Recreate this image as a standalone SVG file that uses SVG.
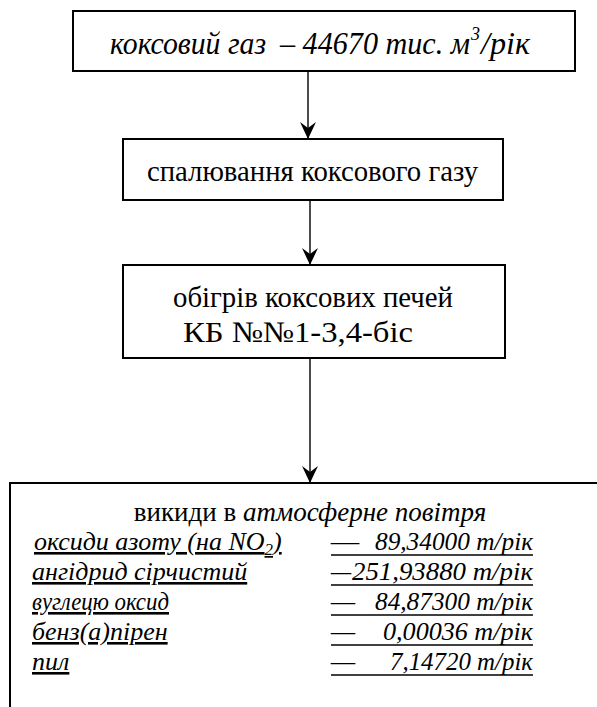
<svg xmlns="http://www.w3.org/2000/svg" width="597" height="707" viewBox="0 0 597 707" font-family="Liberation Serif, Times New Roman, serif">
<style>
.i{font-style:italic}
.m{text-anchor:middle}
.ul{text-decoration:underline}
.box{fill:#fff;stroke:#000;stroke-width:2}
.c{stroke:#000;stroke-width:1.4;fill:none}
.u{stroke:#000;stroke-width:1.5}
</style>
<defs>
<marker id="ah" markerUnits="userSpaceOnUse" markerWidth="19" markerHeight="18" viewBox="-18 -9 19 18" refX="0" refY="0" orient="auto">
<path d="M0,0 L-17,-8 L-11,0 L-17,8 Z" fill="#000"/>
</marker>
</defs>
<rect width="597" height="707" fill="#fff"/>
<g id="connectors">
<line class="c" x1="308" y1="71" x2="308" y2="139" marker-end="url(#ah)"/>
<line class="c" x1="310" y1="200" x2="310" y2="265" marker-end="url(#ah)"/>
<line class="c" x1="310" y1="358" x2="310" y2="483" marker-end="url(#ah)"/>
</g>
<g id="node-gas">
<rect class="box" x="73" y="11" width="502" height="60"/>
<text class="i" x="110" y="54" font-size="31" textLength="156" lengthAdjust="spacingAndGlyphs">коксовий газ</text>
<text class="i" x="280" y="54" font-size="31" textLength="190" lengthAdjust="spacingAndGlyphs">– 44670 тис. м</text>
<text class="i" x="471" y="40" font-size="19" textLength="9" lengthAdjust="spacingAndGlyphs">3</text>
<text class="i" x="481" y="54" font-size="31" textLength="49" lengthAdjust="spacingAndGlyphs">/рік</text>
</g>
<g id="node-burning">
<rect class="box" x="123" y="139" width="380" height="61"/>
<text x="147" y="181" font-size="30" textLength="331" lengthAdjust="spacingAndGlyphs">спалювання коксового газу</text>
</g>
<g id="node-heating">
<rect class="box" x="123" y="265" width="382" height="93"/>
<text x="173" y="307" font-size="30" textLength="280" lengthAdjust="spacingAndGlyphs">обігрів коксових печей</text>
<text x="183" y="342" font-size="30" textLength="230" lengthAdjust="spacingAndGlyphs">КБ №№1-3,4-біс</text>
</g>
<g id="node-emissions">
<rect class="box" x="10" y="483" width="600" height="240"/>
<text class="m" x="310" y="521" font-size="27">викиди в <tspan class="i">атмосферне повітря</tspan></text>

<text class="i ul" x="34" y="550" font-size="26">оксиди азоту (на NO<tspan font-size="17" dy="5">2</tspan><tspan dy="-5">)</tspan></text>
<text class="i" x="331" y="550" font-size="26" textLength="28" lengthAdjust="spacingAndGlyphs">–</text>
<text class="i" x="375" y="550" font-size="26" textLength="158" lengthAdjust="spacingAndGlyphs">89,34000 т/рік</text>
<line class="u" x1="331" y1="555" x2="533" y2="555"/>

<text class="i ul" x="32" y="580" font-size="26">ангідрид сірчистий</text>
<text class="i" x="331" y="580" font-size="26" textLength="20" lengthAdjust="spacingAndGlyphs">–</text>
<text class="i" x="352" y="580" font-size="26" textLength="181" lengthAdjust="spacingAndGlyphs">251,93880 т/рік</text>
<line class="u" x1="331" y1="585" x2="533" y2="585"/>

<text class="i ul" x="32" y="610" font-size="26" textLength="137" lengthAdjust="spacingAndGlyphs">вуглецю оксид</text>
<text class="i" x="331" y="610" font-size="26" textLength="24" lengthAdjust="spacingAndGlyphs">–</text>
<text class="i" x="375" y="610" font-size="26" textLength="158" lengthAdjust="spacingAndGlyphs">84,87300 т/рік</text>
<line class="u" x1="331" y1="615" x2="533" y2="615"/>

<text class="i ul" x="32" y="640" font-size="26">бенз(а)пірен</text>
<text class="i" x="331" y="640" font-size="26" textLength="24" lengthAdjust="spacingAndGlyphs">–</text>
<text class="i" x="383" y="640" font-size="26" textLength="150" lengthAdjust="spacingAndGlyphs">0,00036 т/рік</text>
<line class="u" x1="331" y1="645" x2="533" y2="645"/>

<text class="i ul" x="32" y="670" font-size="26">пил</text>
<text class="i" x="331" y="670" font-size="26" textLength="24" lengthAdjust="spacingAndGlyphs">–</text>
<text class="i" x="390" y="670" font-size="26" textLength="143" lengthAdjust="spacingAndGlyphs">7,14720 т/рік</text>
<line class="u" x1="331" y1="675" x2="533" y2="675"/>
</g>
</svg>
